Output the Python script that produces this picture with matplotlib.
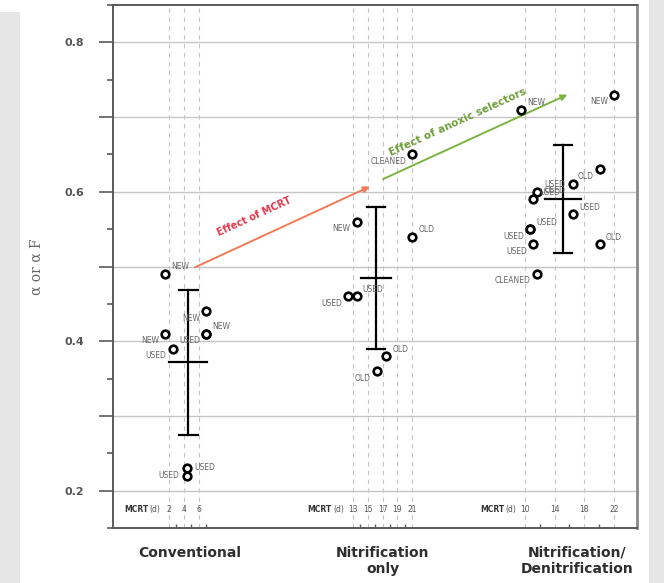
import matplotlib.pyplot as plt
from matplotlib.patches import Rectangle
from matplotlib.transforms import blended_transform_factory

# alpha (or alpha F) measured in each plant, placed by MCRT in days
conv_mcrt = [1.5, 7.0, 1.5, 7.0, 7.0, 2.5, 4.4, 4.4]
conv_alpha = [0.49, 0.44, 0.41, 0.41, 0.41, 0.39, 0.23, 0.22]
conv_label = ['NEW', 'NEW', 'NEW', 'NEW', 'USED', 'USED', 'USED', 'USED']

nit_mcrt = [21.0, 13.5, 21.0, 12.3, 13.5, 17.5, 16.2]
nit_alpha = [0.65, 0.56, 0.54, 0.46, 0.46, 0.38, 0.36]
nit_label = ['CLEANED', 'NEW', 'OLD', 'USED', 'USED', 'OLD', 'OLD']

den_mcrt = [9.5, 22.0, 20.1, 16.5, 11.6, 11.1, 16.5, 10.7, 10.7, 11.1, 20.1, 11.6]
den_alpha = [0.71, 0.73, 0.63, 0.61, 0.60, 0.59, 0.57, 0.55, 0.55, 0.53, 0.53, 0.49]
den_label = ['NEW', 'NEW', 'OLD', 'USED', 'USED', 'USED', 'USED', 'USED',
             'USED', 'USED', 'OLD', 'CLEANED']

# group mean and standard deviation
group_mean = [0.372, 0.484, 0.590]
group_sd = [0.097, 0.095, 0.072]
group_bar_mcrt = [4.6, 16.1, 15.1]

group_names = ['Conventional', 'Nitrification\nonly', 'Nitrification/\nDenitrification']
group_mcrt_ticks = [[2, 4, 6], [13, 15, 17, 19, 21], [10, 14, 18, 22]]
group_minor_ticks = [[3, 5, 7], [14, 16, 18, 20], [12, 16, 20]]

# layout: each group sits on its own stretch of a shared x axis
group_shift = [5.57, 19.43, 45.68]
group_name_mcrt = [4.8, 17.0, 17.0]
mean_half = [2.6, 2.0, 2.4]
cap_half = 1.25

conv_place = ['ur', 'll', 'll', 'ur', 'll', 'll', 'r', 'l']
nit_place = ['ll', 'll', 'ur', 'll', 'ur', 'ur', 'll']
den_place = ['ur', 'll', 'll', 'l', 'r', 'ur', 'ur', 'ur', 'll', 'll', 'ur', 'll']
place_style = {
    'ur': ((6, 7), 'left'),
    'll': ((-6, -7), 'right'),
    'r': ((8, 1), 'left'),
    'l': ((-8, 0), 'right'),
}

fig = plt.figure(figsize=(6.64, 5.83), dpi=100)
fig.patch.set_facecolor('white')
fig.patches.append(Rectangle((0, 0), 20 / 664, 1 - 12 / 583, transform=fig.transFigure,
                             facecolor='#e6e6e6', edgecolor='none', zorder=-5))
fig.patches.append(Rectangle((649 / 664, 0), 15 / 664, 1, transform=fig.transFigure,
                             facecolor='#e6e6e6', edgecolor='none', zorder=-5))

ax = fig.add_axes([113 / 664, 1 - 528 / 583, 524 / 664, 523 / 583])
ax.set_xlim(0, 524 / 7.4)
ax.set_ylim(0.15, 0.85)

for side in ['left', 'right', 'top', 'bottom']:
    ax.spines[side].set_color('#5a5a5a')
    ax.spines[side].set_linewidth(1.4)
ax.spines['right'].set_color('#8a8a8a')
ax.spines['right'].set_linewidth(2.0)

ax.set_yticks([0.2, 0.3, 0.4, 0.5, 0.6, 0.7, 0.8])
ax.set_yticklabels(['0.2', '', '0.4', '', '0.6', '', '0.8'])
ax.set_yticks([0.15 + 0.1 * i for i in range(8)], minor=True)
ax.tick_params(axis='y', which='major', direction='out', length=10, width=1.2,
               color='#5a5a5a', pad=11, labelsize=8, labelcolor='#555555')
ax.tick_params(axis='y', which='minor', direction='out', length=4, width=1.2,
               color='#5a5a5a')
for lab in ax.get_yticklabels():
    lab.set_fontweight('bold')
ax.yaxis.grid(True, which='major', color='#c6c6c6', lw=1.0)
ax.set_axisbelow(True)

minor_x = []
for shift, ticks in zip(group_shift, group_minor_ticks):
    minor_x += [shift + t for t in ticks]
ax.set_xticks(minor_x)
ax.set_xticklabels([])
ax.tick_params(axis='x', direction='in', length=3, width=1.0, color='#5a5a5a')

under = blended_transform_factory(ax.transData, ax.transAxes)
groups = [
    (conv_mcrt, conv_alpha, conv_label, conv_place),
    (nit_mcrt, nit_alpha, nit_label, nit_place),
    (den_mcrt, den_alpha, den_label, den_place),
]

for g, (mcrt, alpha, labels, places) in enumerate(groups):
    shift = group_shift[g]

    # dashed guide lines and the MCRT scale row for this group
    for t in group_mcrt_ticks[g]:
        ax.axvline(shift + t, color='#c4c4c4', lw=0.8, ls=(0, (4, 4)), zorder=0.5)
        ax.text(shift + t, 0.175, str(t), ha='center', va='center',
                fontsize=5.5, color='#555555')
    first = shift + group_mcrt_ticks[g][0]
    ax.annotate('(d)', (first, 0.175), xytext=(-9, 0), textcoords='offset pixels',
                ha='right', va='center', fontsize=5.5, color='#555555')
    ax.annotate('MCRT', (first, 0.175), xytext=(-21, 0), textcoords='offset pixels',
                ha='right', va='center', fontsize=5.5, color='#333333', fontweight='bold')

    xs = [shift + m for m in mcrt]
    ax.plot(xs, alpha, 'o', ms=5.5, mfc='white', mec='black', mew=1.9, zorder=4)
    for x, y, lab, p in zip(xs, alpha, labels, places):
        off, ha = place_style[p]
        ax.annotate(lab, (x, y), xytext=off, textcoords='offset pixels',
                    ha=ha, va='center', fontsize=5.5, color='#666666', zorder=5)

    # mean +/- one standard deviation
    xb = shift + group_bar_mcrt[g]
    lo = group_mean[g] - group_sd[g]
    hi = group_mean[g] + group_sd[g]
    ax.plot([xb, xb], [lo, hi], color='black', lw=1.6, zorder=3)
    ax.plot([xb - cap_half, xb + cap_half], [lo, lo], color='black', lw=1.6, zorder=3)
    ax.plot([xb - cap_half, xb + cap_half], [hi, hi], color='black', lw=1.6, zorder=3)
    ax.plot([xb - mean_half[g], xb + mean_half[g]], [group_mean[g]] * 2,
            color='black', lw=1.6, zorder=3)

    ax.text(shift + group_name_mcrt[g], -0.034, group_names[g], transform=under,
            ha='center', va='top', fontsize=10, fontweight='bold',
            color='#2e2e2e', linespacing=1.2, clip_on=False)

# trend arrows
ax.annotate('', xy=(34.7, 0.607), xytext=(11.1, 0.499),
            arrowprops=dict(arrowstyle='-|>', color='#f27a55', lw=1.4,
                            mutation_scale=9, shrinkA=0, shrinkB=0), zorder=2)
ax.text(19.1, 0.567, 'Effect of MCRT', rotation=24.6, rotation_mode='anchor',
        ha='center', va='center', fontsize=7, fontweight='bold', color='#e8384a')

ax.annotate('', xy=(61.4, 0.730), xytext=(36.5, 0.617),
            arrowprops=dict(arrowstyle='-|>', color='#7cb342', lw=1.4,
                            mutation_scale=9, shrinkA=0, shrinkB=0), zorder=2)
ax.text(46.6, 0.693, 'Effect of anoxic selectors', rotation=24.6, rotation_mode='anchor',
        ha='center', va='center', fontsize=7.5, fontweight='bold', color='#6f9e3a')

fig.text(37 / 664, 1 - 267 / 583, 'α or α F', rotation=90, ha='center', va='center',
         family='DejaVu Serif', fontsize=10, color='#666666')

fig.savefig('out.png', dpi=100)
